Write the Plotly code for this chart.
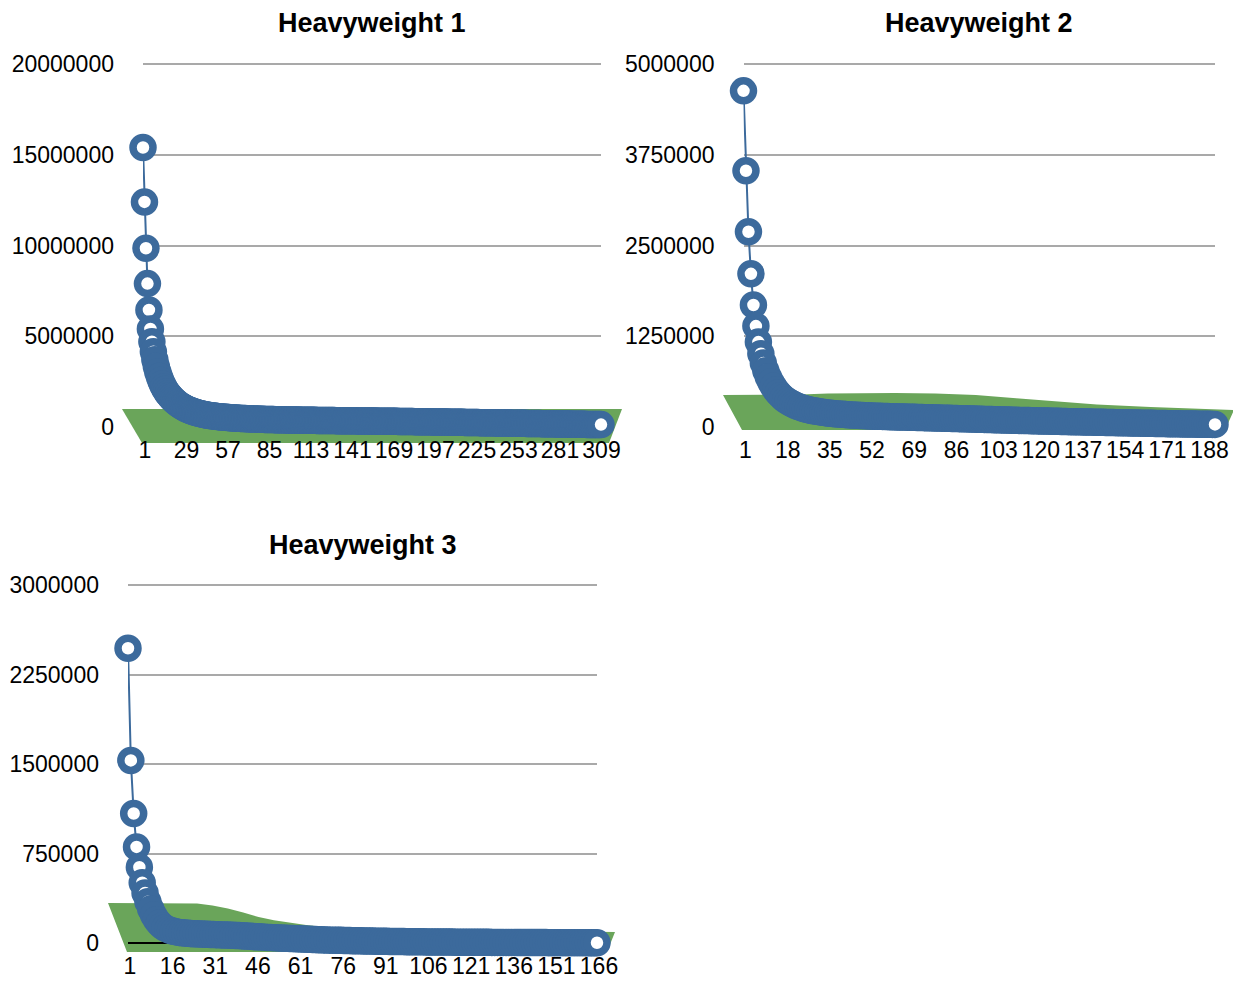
import plotly.graph_objects as go

W, H = 1233, 981

BLUE = "#3c6a9c"
GREEN = "#6aa55a"
GRID = "#a9a9a9"
FONT = "Liberation Sans, Arial, Helvetica, sans-serif"

titles = ["Heavyweight 1", "Heavyweight 2", "Heavyweight 3"]

# Ranked values per division, in thousands
hw1_k = [
    15400, 12400, 9850, 7900, 6450, 5400, 4700, 4150, 3700, 3330,
    3030, 2780, 2560, 2370, 2200, 2060, 1930, 1820, 1720, 1630,
    1540, 1460, 1390, 1320, 1260, 1200, 1150, 1100, 1055, 1010,
    975, 940, 905, 875, 845, 820, 795, 772, 750, 730,
    712, 695, 679, 664, 650, 637, 624, 612, 601, 590,
    580, 571, 562, 554, 546, 538, 531, 524, 518, 512,
    506, 500, 495, 490, 485, 480, 475, 470, 466, 462,
    458, 454, 450, 446, 443, 440, 437, 434, 431, 428,
    425, 422, 420, 417, 415, 413, 411, 409, 407, 405,
    403, 401, 399, 397, 396, 394, 392, 391, 389, 388,
    386, 385, 383, 382, 381, 379, 378, 377, 375, 374,
    373, 372, 370, 369, 368, 367, 366, 365, 363, 362,
    361, 360, 359, 358, 357, 356, 355, 354, 353, 352,
    351, 350, 349, 348, 347, 346, 345, 344, 343, 342,
    341, 340, 339, 338, 337, 336, 335, 334, 333, 332,
    331, 330, 329, 328, 327, 326, 325, 324, 323, 322,
    321, 320, 319, 318, 317, 316, 315, 314, 313, 312,
    311, 310, 309, 307, 306, 305, 304, 303, 302, 300,
    299, 298, 297, 296, 295, 293, 292, 291, 290, 289,
    287, 286, 285, 284, 283, 281, 280, 279, 278, 276,
    275, 274, 273, 271, 270, 269, 268, 266, 265, 264,
    263, 261, 260, 259, 258, 256, 255, 254, 252, 251,
    250, 249, 247, 246, 245, 243, 242, 241, 240, 238,
    237, 236, 234, 233, 232, 230, 229, 228, 226, 225,
    224, 222, 221, 220, 218, 217, 216, 214, 213, 212,
    210, 209, 208, 206, 205, 204, 202, 201, 200, 198,
    197, 196, 194, 193, 191, 190, 189, 187, 186, 185,
    183, 182, 181, 179, 178, 176, 175, 174, 172, 171,
    170, 168, 167, 166, 164, 163, 162, 160, 159, 158,
    156, 155, 154, 152, 151, 150, 148, 147, 146, 144,
    143, 142, 140, 139, 138, 136, 135, 134, 132, 131,
]

hw2_k = [
    4630, 3530, 2690, 2110, 1680, 1390, 1170, 1010, 880, 775,
    690, 620, 560, 510, 468, 432, 400, 373, 350, 330,
    312, 296, 282, 270, 259, 249, 240, 232, 225, 219,
    213, 208, 203, 198, 194, 190, 186, 183, 180, 177,
    174, 171, 169, 167, 165, 163, 161, 159, 157, 155,
    154, 152, 151, 149, 148, 147, 146, 144, 143, 142,
    141, 140, 139, 138, 137, 137, 136, 135, 134, 133,
    132, 131, 130, 129, 128, 127, 126, 125, 124, 123,
    122, 121, 120, 119, 118, 117, 116, 115, 114, 113,
    112, 111, 110, 109, 108, 107, 106, 105, 104, 103,
    102, 101, 100, 99, 98, 97, 96, 95, 94, 93,
    92, 91, 90, 89, 88, 88, 87, 86, 85, 84,
    83, 82, 82, 81, 80, 79, 78, 78, 77, 76,
    75, 74, 74, 73, 72, 71, 71, 70, 69, 68,
    68, 67, 66, 65, 65, 64, 63, 62, 62, 61,
    60, 60, 59, 58, 57, 57, 56, 55, 55, 54,
    53, 53, 52, 51, 51, 50, 49, 49, 48, 47,
    47, 46, 46, 45, 44, 44, 43, 43, 42, 41,
    41, 40, 40, 39, 39, 38, 38, 37, 37, 36, 36,
]

hw3_k = [
    2470, 1530, 1085, 805, 635, 505, 420, 345, 285, 235,
    195, 165, 142, 126, 114, 105, 98, 93, 89, 86,
    83, 81, 79, 78, 77, 76, 75, 74, 73, 72,
    71, 70, 69, 68, 67, 66, 65, 64, 63, 62,
    61, 59, 58, 56, 55, 53, 52, 50, 49, 47,
    46, 45, 43, 42, 41, 40, 39, 38, 37, 36,
    35, 34, 33, 32, 31, 30, 29, 28, 27, 26,
    25, 24, 24, 23, 22, 22, 21, 20, 20, 19,
    19, 18, 18, 17, 17, 16, 16, 15, 15, 14,
    14, 14, 13, 13, 13, 12, 12, 12, 11, 11,
    11, 10, 10, 10, 10, 9, 9, 9, 9, 9,
    8, 8, 8, 8, 8, 7, 7, 7, 7, 7,
    7, 6, 6, 6, 6, 6, 6, 6, 5, 5,
    5, 5, 5, 5, 5, 5, 5, 4, 4, 4,
    4, 4, 4, 4, 4, 4, 4, 4, 3, 3,
    3, 3, 3, 3, 3, 3, 3, 3, 3, 3,
    3, 3, 2, 2, 2, 2,
]

# Background (green) area series: rank position and value in thousands
green1_rank = [1, 100, 200, 310]
green1_k = [990, 990, 990, 990]
green2_rank = [1, 20, 30, 40, 50, 65, 80, 95, 110, 125, 140, 160, 175, 191]
green2_k = [441, 441, 448, 460, 467, 468, 460, 440, 395, 350, 310, 275, 252, 234]
green3_rank = [1, 24, 30, 35, 40, 45, 50, 55, 60, 66, 72, 80, 95, 115, 140, 166]
green3_k = [335, 335, 330, 315, 290, 255, 218, 190, 168, 148, 134, 126, 116, 108, 100, 92]

y_ticks = [
    [0, 5000000, 10000000, 15000000, 20000000],
    [0, 1250000, 2500000, 3750000, 5000000],
    [0, 750000, 1500000, 2250000, 3000000],
]
x_steps = [28, 17, 15]

series = [hw1_k, hw2_k, hw3_k]
greens = [(green1_rank, green1_k), (green2_rank, green2_k), (green3_rank, green3_k)]

# Panel placement in page pixels: plot box, title line and the slanted floor of the area
panels = [
    dict(x0=143, x1=601, y0=427, ytop=64, title_y=23,
         dlt=21, drt=21, dlb=1, drb=8, floor=16, gbox=(100, 640, 392, 455)),
    dict(x0=743.5, x1=1215, y0=427, ytop=64, title_y=23,
         dlt=20.5, drt=19, dlb=1.5, drb=10, floor=3, gbox=(700, 1233, 378, 440)),
    dict(x0=128, x1=597, y0=943, ytop=585, title_y=545,
         dlt=20, drt=18, dlb=1, drb=10, floor=9, gbox=(95, 625, 888, 962)),
]
zero_colors = ["rgba(0,0,0,0)", "rgba(0,0,0,0)", "#000000"]


def fx(px):
    """page x pixel -> paper fraction"""
    return min(max(px / W, 0.0), 1.0)


def fy(py):
    """page y pixel -> paper fraction (measured from the top)"""
    return min(max(1 - py / H, 0.0), 1.0)


fig = go.Figure()
layout = dict(
    width=W, height=H,
    margin=dict(l=0, r=0, t=0, b=0, pad=0, autoexpand=False),
    paper_bgcolor="white", plot_bgcolor="rgba(0,0,0,0)",
    showlegend=False,
    font=dict(family=FONT, color="#000000"),
    annotations=[],
)
PAD = 6

for k in range(3):
    p = panels[k]
    vals = [v * 1000 for v in series[k]]
    n = len(vals)
    ymax = y_ticks[k][-1]
    sx = (p["x1"] - p["x0"]) / (n - 1)
    sy = (p["y0"] - p["ytop"]) / ymax

    # hidden subplot carrying the green area (drawn first, so it sits underneath)
    gid = k + 1
    gx0, gx1, gyt, gyb = p["gbox"]
    gx1 = min(gx1, W)
    layout[f"xaxis{gid}"] = dict(
        domain=[fx(gx0), fx(gx1)],
        range=[1 + (gx0 - p["x0"]) / sx, 1 + (gx1 - p["x0"]) / sx],
        visible=False, anchor=f"y{gid}", fixedrange=True, automargin=False,
    )
    layout[f"yaxis{gid}"] = dict(
        domain=[fy(gyb), fy(gyt)],
        range=[(p["y0"] - gyb) / sy, (p["y0"] - gyt) / sy],
        visible=False, anchor=f"x{gid}", fixedrange=True, automargin=False,
    )
    g_rank, g_k = greens[k]
    left_top = p["x0"] - p["dlt"]
    right_top = p["x1"] + p["drt"]
    left_bot = p["x0"] - p["dlb"]
    right_bot = p["x1"] + p["drb"]
    gx, gy = [], []
    for r, v in zip(g_rank, g_k):
        px = left_top + (r - 1) / (n - 1) * (right_top - left_top)
        gx.append(1 + (px - p["x0"]) / sx)
        gy.append(v * 1000)
    floor_val = -p["floor"] / sy
    for px in (right_bot, left_bot):
        gx.append(1 + (px - p["x0"]) / sx)
        gy.append(floor_val)
    fig.add_trace(go.Scatter(
        x=gx, y=gy, mode="lines", fill="toself", fillcolor=GREEN,
        line=dict(width=0, color=GREEN), hoverinfo="skip",
        xaxis=f"x{gid}" if gid > 1 else "x", yaxis=f"y{gid}" if gid > 1 else "y",
    ))

    # main subplot with the ranked series
    mid = k + 4
    layout[f"xaxis{mid}"] = dict(
        domain=[fx(p["x0"]), fx(p["x1"])],
        range=[1, n], anchor=f"y{mid}",
        tickmode="linear", tick0=1, dtick=x_steps[k],
        showgrid=False, zeroline=False, showline=False, ticks="",
        tickfont=dict(size=23, family=FONT, color="#000000"),
        ticklabelstandoff=1, ticklabelshift=2, fixedrange=True, automargin=False,
    )
    layout[f"yaxis{mid}"] = dict(
        domain=[fy(p["y0"] + PAD), fy(p["ytop"] - PAD)],
        range=[-PAD / sy, ymax + PAD / sy], anchor=f"x{mid}",
        tickmode="array", tickvals=y_ticks[k],
        ticktext=[str(v) for v in y_ticks[k]],
        showgrid=True, gridcolor=GRID, gridwidth=1.5,
        zeroline=True, zerolinecolor=zero_colors[k], zerolinewidth=2,
        showline=False, ticks="",
        tickfont=dict(size=23, family=FONT, color="#000000"),
        ticklabelstandoff=28, fixedrange=True, automargin=False,
    )
    fig.add_trace(go.Scatter(
        x=list(range(1, n + 1)), y=vals, mode="lines+markers",
        line=dict(color=BLUE, width=2),
        marker=dict(symbol="circle", size=20, color="white",
                    line=dict(color=BLUE, width=7.5)),
        cliponaxis=False, hoverinfo="skip",
        xaxis=f"x{mid}", yaxis=f"y{mid}",
    ))

    layout["annotations"].append(dict(
        text=f"<b>{titles[k]}</b>", xref="paper", yref="paper",
        x=fx((p["x0"] + p["x1"]) / 2), y=fy(p["title_y"]),
        xanchor="center", yanchor="middle", showarrow=False,
        font=dict(size=27, family=FONT, color="#000000"),
    ))

layout["xaxis"] = layout.pop("xaxis1")
layout["yaxis"] = layout.pop("yaxis1")
layout["xaxis"]["anchor"] = "y"
layout["yaxis"]["anchor"] = "x"
fig.update_layout(**layout)
fig.write_html("out.html")
